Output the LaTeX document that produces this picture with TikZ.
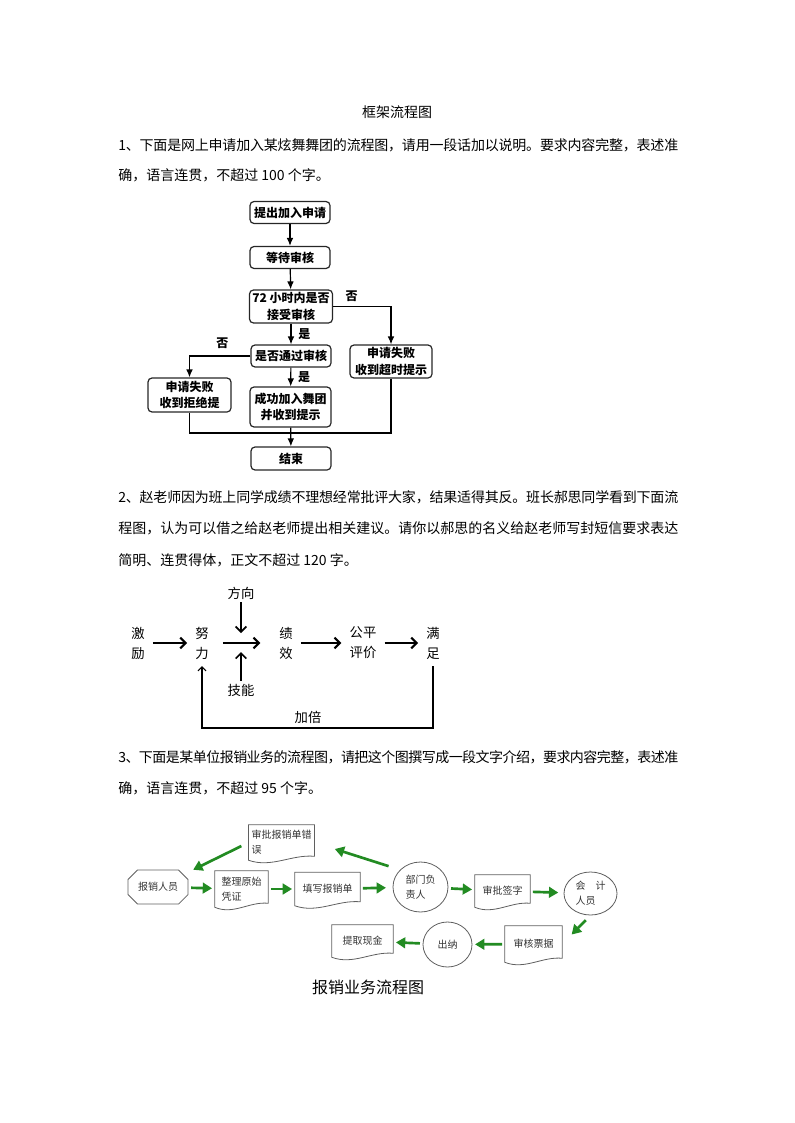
\documentclass[tikz,border=0pt]{standalone}
\usepackage{fontspec}
\setmainfont{Noto Sans CJK SC}
\usetikzlibrary{arrows.meta,positioning,shapes.geometric,shapes.misc,calc}
% stretchable space between CJK characters, so a full line can be set to the text width
\makeatletter
\count@="4E00
\loop\ifnum\count@<"A000
  \XeTeXcharclass\count@=1
  \advance\count@ by 1
\repeat
\makeatother
\XeTeXcharclass"3001=3
\XeTeXcharclass"3002=3
\XeTeXcharclass"FF0C=3
\XeTeXinterchartokenstate=1
\XeTeXinterchartoks 1 1 = {\hskip 0pt plus 1pt minus 1pt}
\XeTeXinterchartoks 1 3 = {\hskip 0pt plus 1pt minus 1pt}
\XeTeXinterchartoks 3 1 = {\hskip 0pt plus 1pt minus 1pt}
\XeTeXinterchartoks 0 3 = {\hskip 0pt plus 1pt minus 1pt}
\definecolor{flowgreen}{RGB}{34,139,34}
\definecolor{shapegray}{RGB}{95,95,95}
\newcommand{\fullrow}[1]{\makebox[420pt][s]{#1}}

\begin{document}
\begin{tikzpicture}[
  x=0.75pt, y=-0.75pt,
  >={Latex[length=6pt,width=5pt]},
  para/.style={anchor=west, inner sep=0pt, font=\fontsize{10.5pt}{12pt}\selectfont},
  stepbox/.style={rectangle, rounded corners=3pt, draw=black!85, line width=0.9pt, align=center, minimum width=60pt, minimum height=16.5pt, inner sep=1pt, font=\fontsize{9pt}{12.5pt}\selectfont\bfseries},
  flow/.style={->, line width=0.9pt},
  plain/.style={line width=0.9pt},
  tag/.style={font=\fontsize{9pt}{10pt}\selectfont\bfseries, inner sep=1pt},
  word/.style={align=center, inner xsep=6pt, inner ysep=5pt, font=\fontsize{10pt}{15pt}\selectfont},
  push/.style={-{Straight Barb[length=4pt,width=8pt]}, line width=1.6pt},
  back/.style={-{Straight Barb[length=3pt,width=6pt]}, line width=0.8pt},
  docbox/.style={rectangle, align=left, inner sep=2pt, text=black!80, font=\fontsize{7.5pt}{11pt}\selectfont},
  docline/.style={draw=shapegray, line width=0.6pt},
  oval/.style={ellipse, draw=shapegray, line width=0.6pt, align=left, inner sep=0pt, text=black!80, font=\fontsize{7.5pt}{11pt}\selectfont},
  oct/.style={chamfered rectangle, chamfered rectangle xsep=7pt, draw=shapegray, line width=0.6pt, inner sep=0pt, minimum width=45pt, minimum height=25.5pt, text=black!80, font=\fontsize{7.5pt}{11pt}\selectfont},
  garrow/.style={-{Triangle[length=7pt,width=8pt]}, draw=flowgreen, fill=flowgreen, line width=2pt, shorten <=2pt, shorten >=2pt}
]
\useasboundingbox (0,0) rectangle (794,1123);

% Question 1
\node[font=\fontsize{10.5pt}{12pt}\selectfont] (title) at (397,112) {框架流程图};
\node[para] (q1a) at (118,145) {\fullrow{1、下面是网上申请加入某炫舞舞团的流程图，请用一段话加以说明。要求内容完整，表述准}};
\node[para] (q1b) at (118,175) {确，语言连贯，不超过 100 个字。};

% Flowchart 1
\node[stepbox] (apply) at (290,212.5) {提出加入申请};
\node[stepbox] (wait) at (290,257.5) {等待审核};
\node[stepbox, minimum width=62.25pt, minimum height=24.75pt] (within72) at (291,306.5) {72 小时内是否\\接受审核};
\node[stepbox] (pass) at (291,356) {是否通过审核};
\node[stepbox, minimum width=60.75pt, minimum height=30pt] (success) at (290.5,407) {成功加入舞团\\并收到提示};
\node[stepbox, minimum width=62.25pt, minimum height=25.5pt] (failL) at (189.5,395) {申请失败\\收到拒绝提};
\node[stepbox, minimum width=61.5pt, minimum height=24.75pt] (failR) at (391,361.5) {申请失败\\收到超时提示};
\node[stepbox, minimum height=17.25pt] (finish) at (291,458.5) {结束};
\coordinate (merge) at (290,433);

\draw[flow] (apply) -- (wait);
\draw[flow] (wait) -- (within72);
\draw[flow] (within72) -- node[tag, right=4pt] {是} (pass);
\draw[flow] (pass) -- node[tag, right=4pt] {是} (success);
\draw[flow] (within72.east) -| node[tag, pos=0.16, above=2pt] {否} (failR.north);
\draw[flow] (pass.west) -| node[tag, pos=0.23, above=4pt] {否} (failL.north);
\draw[plain] (failL.south) |- (merge);
\draw[plain] (failR.south) |- (merge);
\draw[flow] (success) -- (finish);

% Question 2
\node[para] (q2a) at (118,497) {\fullrow{2、赵老师因为班上同学成绩不理想经常批评大家，结果适得其反。班长郝思同学看到下面流}};
\node[para] (q2b) at (118,528) {\fullrow{程图，认为可以借之给赵老师提出相关建议。请你以郝思的名义给赵老师写封短信要求表达}};
\node[para] (q2c) at (118,560) {简明、连贯得体，正文不超过 120 字。};

% Chain diagram
\node[word] (incent) at (138,643) {激\\励};
\node[word] (effort) at (202,643) {努\\力};
\node[word] (perf) at (286,643) {绩\\效};
\node[word] (fair) at (363,643) {公平\\评价};
\node[word] (satis) at (433,643) {满\\足};
\node[word, inner ysep=2pt] (dir) at (241,593) {方向};
\node[word, inner ysep=2pt] (skill) at (241,690) {技能};
\node[word] (twice) at (308,717) {加倍};
\coordinate (join) at (241,642);
\coordinate (loopbot) at (320,728);

\draw[push] (incent) -- (effort);
\draw[push, shorten <=4.5pt, shorten >=8pt] (effort) -- (perf);
\draw[push] (perf) -- (fair);
\draw[push] (fair) -- (satis);
\draw[push, line width=1.2pt, shorten >=6.75pt] (dir) -- (join);
\draw[push, line width=1.2pt, shorten >=7.5pt] (skill) -- (join);
\draw[back] (satis.south) |- (loopbot) -| (effort.south);

% Question 3
\node[para] (q3a) at (118,757) {\fullrow{3、下面是某单位报销业务的流程图，请把这个图撰写成一段文字介绍，要求内容完整，表述准}};
\node[para] (q3b) at (118,788) {确，语言连贯，不超过 95 个字。};

% Reimbursement flow
\node[docbox, minimum width=47.25pt, minimum height=26.25pt] (err) at (281.5,842.5) {审批报销单错\\误};
\node[oct] (staff) at (158,887) {报销人员};
\node[docbox, minimum width=39.75pt, minimum height=27pt] (sort) at (241.5,889) {整理原始\\凭证};
\node[docbox, minimum width=48.75pt, minimum height=24.75pt] (fill) at (327.5,889) {填写报销单};
\node[oval, minimum width=41.25pt, minimum height=37.5pt] (head) at (420.5,887) {部门负\\责人};
\node[docbox, minimum width=41.25pt, minimum height=24pt] (sign) at (502.5,891) {审批签字};
\node[oval, minimum width=39.75pt, minimum height=32.25pt] (acct) at (590.5,893.5) {会\quad 计\\人员};
\node[docbox, minimum width=42.75pt, minimum height=27pt] (check) at (533.5,944) {审核票据};
\node[oval, minimum width=36.75pt, minimum height=33.75pt] (cashier) at (447.5,944.5) {出纳};
\node[docbox, minimum width=45.75pt, minimum height=24pt] (cash) at (362.5,941) {提取现金};
\node[font=\fontsize{12pt}{14pt}\selectfont] (caption) at (368,987) {报销业务流程图};

\foreach \n in {err,sort,fill,sign,check,cash}
  \draw[docline] (\n.north west) -- (\n.north east) -- ([yshift=3pt]\n.south east)
    .. controls ($(\n.south east)!0.35!(\n.south west)+(0,-6)$) and ($(\n.south east)!0.65!(\n.south west)+(0,8)$) .. (\n.south west) -- cycle;

\draw[garrow] (staff) -- (sort);
\draw[garrow] (sort) -- (fill);
\draw[garrow, shorten >=5pt] (fill) -- (head);
\draw[garrow] (head) -- (sign);
\draw[garrow, shorten >=4pt] (sign) -- (acct);
\draw[garrow, shorten <=5pt, shorten >=10pt] (acct.south) -- (check.east);
\draw[garrow] (check) -- (cashier);
\draw[garrow] (cashier) -- (cash);
\draw[garrow, shorten <=9pt, shorten >=16pt] (head.140) -- (err.east);
\draw[garrow, shorten <=6pt, shorten >=8pt] (err.west) -- (staff.north east);

\end{tikzpicture}
\end{document}
